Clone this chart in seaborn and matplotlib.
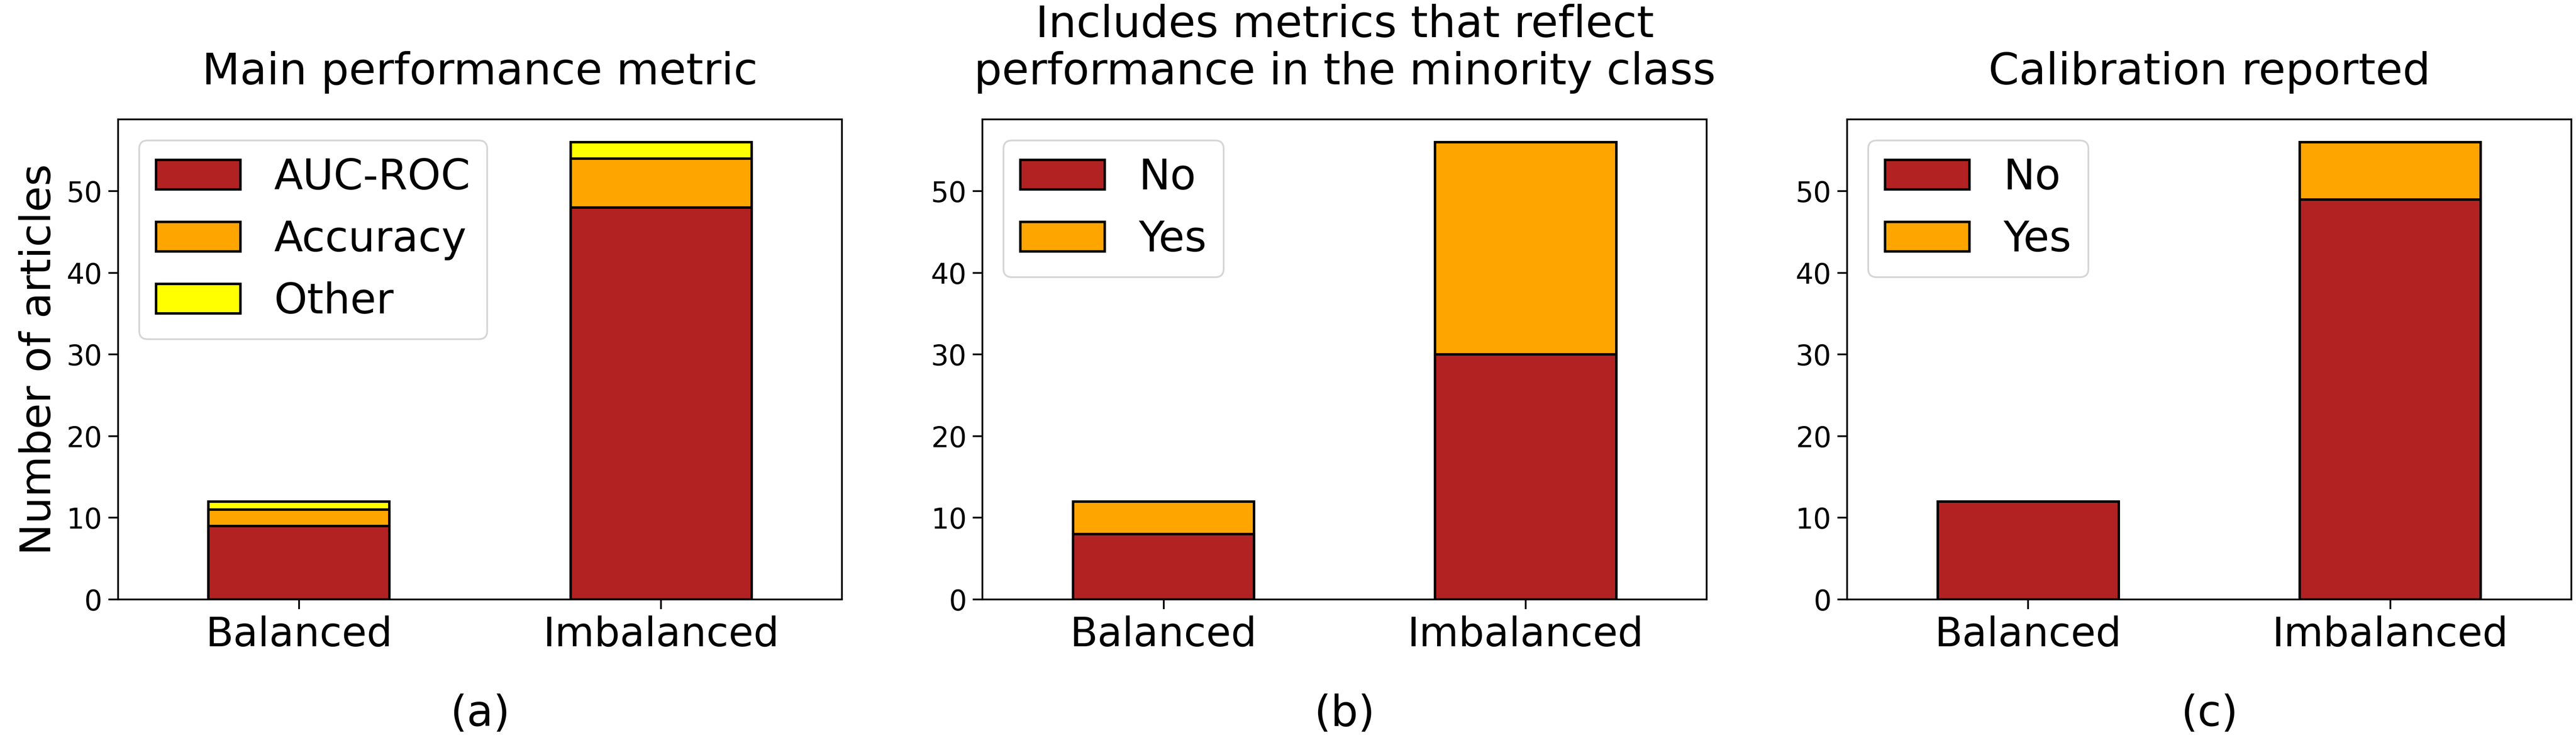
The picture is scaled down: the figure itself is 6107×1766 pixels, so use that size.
import numpy as np
import pandas as pd
import seaborn as sns
import matplotlib.pyplot as plt

# Datos
grupos = ["Balanced", "Imbalanced"]

# (a) metrica principal
auc_roc = [9, 48]
accuracy = [2, 6]
other = [1, 2]

# (b) metricas de la clase minoritaria
minority_no = [8, 30]
minority_yes = [4, 26]

# (c) calibracion
calib_no = [12, 49]
calib_yes = [0, 7]

titulos = ["Main performance metric",
           "Includes metrics that reflect\nperformance in the minority class",
           "Calibration reported"]
letras = ["(a)", "(b)", "(c)"]

colores = ["#B22222", "#FFA500", "#FFFF00"]

paneles = [
    (["AUC-ROC", "Accuracy", "Other"], [auc_roc, accuracy, other]),
    (["No", "Yes"], [minority_no, minority_yes]),
    (["No", "Yes"], [calib_no, calib_yes]),
]

plt.rcParams["font.family"] = ["DejaVu Sans"]
plt.rcParams["axes.linewidth"] = 1.0
plt.rcParams["xtick.major.size"] = 5.5
plt.rcParams["ytick.major.size"] = 5.5
plt.rcParams["xtick.major.width"] = 1.0
plt.rcParams["ytick.major.width"] = 1.0

fig, axes = plt.subplots(1, 3, figsize=(6107 / 300, 1766 / 300))
fig.subplots_adjust(left=0.0458, right=0.9982, bottom=0.1954, top=0.8397, wspace=0.194)

for ax, (labels, series), titulo, letra in zip(axes, paneles, titulos, letras):
    # apilado: dibujo los acumulados de arriba hacia abajo
    acumulado = np.cumsum(np.array(series), axis=0)
    for i in range(len(series) - 1, -1, -1):
        df = pd.DataFrame({"grupo": grupos, "valor": acumulado[i]})
        sns.barplot(data=df, x="grupo", y="valor", color=colores[i], saturation=1,
                    width=0.5, edgecolor="black", linewidth=1.4, label=labels[i], ax=ax)
    handles, labs = ax.get_legend_handles_labels()
    ax.legend(handles[::-1], labs[::-1], loc="upper left", fontsize=24,
              fancybox=True, framealpha=0.8, edgecolor="0.8")
    ax.set_title(titulo, fontsize=25, pad=20, linespacing=1.15)
    ax.set_xlabel(letra, fontsize=24.5, labelpad=22)
    ax.set_ylabel("")
    ax.tick_params(axis="x", labelsize=23)
    ax.tick_params(axis="y", labelsize=16)
    ax.set_yticks([0, 10, 20, 30, 40, 50])
    ax.set_xlim(-0.5, 1.5)
    ax.set_ylim(0, 58.8)

axes[0].set_ylabel("Number of articles", fontsize=24)

plt.savefig("out.png", dpi=300)
